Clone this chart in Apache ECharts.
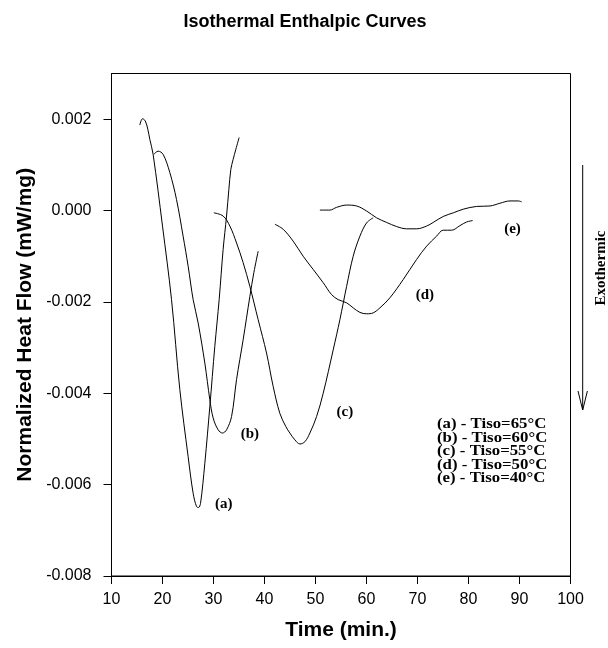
<!DOCTYPE html>
<html>
<head>
<meta charset="utf-8">
<script src="https://cdn.jsdelivr.net/npm/echarts@6/dist/echarts.min.js"></script>
<style>
  html, body { margin: 0; padding: 0; background: #ffffff; }
  #chart { width: 608px; height: 648px; }
</style>
</head>
<body>
<div id="chart"></div>
<script>
// Axis ticks
const xTicks = [10, 20, 30, 40, 50, 60, 70, 80, 90, 100];
const yTicks = [-0.008, -0.006, -0.004, -0.002, 0, 0.002];

// Isothermal DSC traces: [time (min), normalized heat flow (mW/mg)]
const curveA = [
  [15.55, 0.00187], [16.08, 0.00201], [16.63, 0.00196], [17.12, 0.00178], [17.51, 0.00156],
  [18.16, 0.00123], [20.00, -0.00034], [21.77, -0.00195], [23.40, -0.00392], [25.03, -0.00539],
  [26.01, -0.00619], [26.67, -0.00648], [27.07, -0.00650], [27.46, -0.00641], [28.30, -0.00553],
  [29.28, -0.00429], [30.26, -0.00297], [31.11, -0.00195], [31.89, -0.00085], [32.56, -0.00012],
  [33.01, 0.00046], [33.40, 0.00090], [33.85, 0.00112], [34.38, 0.00134], [35.03, 0.00160]
];
const curveB = [
  [18.30, 0.00123], [19.14, 0.00130], [20.12, 0.00123], [21.44, 0.00083], [22.75, 0.00024],
  [24.04, -0.00056], [25.03, -0.00122], [26.01, -0.00195], [26.99, -0.00246], [28.30, -0.00334],
  [29.28, -0.00414], [29.93, -0.00454], [30.91, -0.00480], [31.77, -0.00487], [32.56, -0.00480],
  [33.54, -0.00451], [34.52, -0.00370], [35.81, -0.00283], [37.13, -0.00188], [37.91, -0.00136],
  [38.76, -0.00089]
];
const curveC = [
  [30.07, -0.00005], [31.89, -0.00012], [33.21, -0.00034], [34.52, -0.00071], [35.81, -0.00114],
  [37.13, -0.00166], [38.76, -0.00239], [40.40, -0.00312], [41.70, -0.00385], [43.01, -0.00444],
  [44.19, -0.00473], [44.97, -0.00487], [45.96, -0.00502], [46.94, -0.00511], [47.92, -0.00506],
  [48.90, -0.00487], [50.21, -0.00451], [51.51, -0.00400], [53.47, -0.00305], [54.78, -0.00239],
  [56.10, -0.00166], [57.39, -0.00100], [58.71, -0.00056], [60.02, -0.00027], [61.31, -0.00016]
];
const curveD = [
  [42.03, -0.00030], [43.66, -0.00041], [45.62, -0.00067], [47.58, -0.00100], [49.55, -0.00129],
  [51.51, -0.00158], [53.15, -0.00184], [54.45, -0.00195], [56.10, -0.00202], [57.39, -0.00213],
  [58.71, -0.00223], [60.02, -0.00226], [61.31, -0.00224], [62.63, -0.00213], [64.59, -0.00191],
  [67.20, -0.00151], [69.83, -0.00107], [71.79, -0.00078], [73.75, -0.00056], [75.04, -0.00043],
  [76.69, -0.00043], [78.32, -0.00033], [79.64, -0.00025], [80.81, -0.00022]
];
const curveE = [
  [50.86, 0.00001], [52.82, 0.00001], [54.14, 0.00007], [56.10, 0.00012], [58.06, 0.00010],
  [60.02, -0.00001], [61.98, -0.00016], [63.94, -0.00026], [65.90, -0.00035], [67.87, -0.00040],
  [69.83, -0.00040], [71.79, -0.00034], [73.08, -0.00026], [75.04, -0.00013], [77.01, -0.00005],
  [78.97, 0.00003], [81.60, 0.00009], [84.21, 0.00010], [86.17, 0.00016], [88.13, 0.00021],
  [89.76, 0.00021], [90.43, 0.00019]
];

// Curve tags and where they sit (data coordinates)
const curveTags = ['(a)', '(b)', '(c)', '(d)', '(e)'];
const tagAnchors = [[32.03, -0.00642], [37.13, -0.00490], [55.76, -0.00441], [71.46, -0.00185], [88.62, -0.00041]];

// Key listing the isothermal temperatures
const keyLines = [
  '(a) - Tiso=65°C',
  '(b) - Tiso=60°C',
  '(c) - Tiso=55°C',
  '(d) - Tiso=50°C',
  '(e) - Tiso=40°C'
];

const curves = [curveA, curveB, curveC, curveD, curveE];
const sans = 'Liberation Sans, Arial, sans-serif';
const serif = 'Liberation Serif, Times New Roman, serif';

const chart = echarts.init(document.getElementById('chart'), null, { renderer: 'canvas' });

const lineSeries = curves.map((pts, i) => ({
  type: 'line',
  name: curveTags[i],
  data: pts,
  showSymbol: false,
  smooth: 0.35,
  lineStyle: { color: '#000', width: 1 },
  silent: true,
  z: 3
}));

const tagSeries = {
  type: 'scatter',
  data: tagAnchors.map((p, i) => ({ value: p, name: curveTags[i] })),
  symbolSize: 0,
  itemStyle: { color: '#000', opacity: 1 },
  label: {
    show: true,
    position: [0, 0],
    align: 'center',
    verticalAlign: 'middle',
    formatter: p => p.name,
    color: '#000',
    textBorderWidth: 0,
    fontFamily: serif,
    fontWeight: 'bold',
    fontSize: 15
  },
  emphasis: { disabled: true },
  silent: true,
  z: 4
};

chart.setOption({
  animation: false,
  backgroundColor: '#fff',
  title: {
    text: 'Isothermal Enthalpic Curves',
    left: 300,
    top: 8,
    textAlign: 'center',
    textStyle: { fontFamily: sans, fontWeight: 'bold', fontSize: 18, color: '#000' }
  },
  grid: {
    left: 111.5,
    right: 37.5,
    top: 73.5,
    bottom: 72,
    show: true,
    borderColor: '#000',
    borderWidth: 1
  },
  xAxis: {
    type: 'value',
    min: 10,
    max: 100,
    interval: 10,
    name: 'Time (min.)',
    nameLocation: 'middle',
    nameGap: 44,
    nameTextStyle: { fontFamily: sans, fontWeight: 'bold', fontSize: 21, color: '#000' },
    axisLine: { show: true, onZero: false, lineStyle: { color: '#000', width: 1 } },
    axisTick: { show: true, length: 8, lineStyle: { color: '#000' } },
    axisLabel: {
      margin: 16,
      color: '#000',
      fontFamily: sans,
      fontSize: 16,
      formatter: v => (xTicks.indexOf(v) >= 0 ? String(v) : '')
    },
    splitLine: { show: false }
  },
  yAxis: {
    type: 'value',
    min: -0.008,
    max: 0.003,
    interval: 0.002,
    name: 'Normalized Heat Flow (mW/mg)',
    nameLocation: 'middle',
    nameGap: 67,
    nameTextStyle: { fontFamily: sans, fontWeight: 'bold', fontSize: 21, color: '#000' },
    axisLine: { show: true, onZero: false, lineStyle: { color: '#000', width: 1 } },
    axisTick: { show: true, length: 8, lineStyle: { color: '#000' }, customValues: yTicks },
    axisLabel: {
      margin: 20,
      color: '#000',
      fontFamily: sans,
      fontSize: 16,
      customValues: yTicks,
      formatter: v => v.toFixed(3)
    },
    splitLine: { show: false }
  },
  series: [...lineSeries, tagSeries],
  graphic: [
    {
      type: 'text',
      x: 437,
      y: 418,
      scaleX: 1.2,
      style: {
        text: keyLines.join('\n'),
        font: 'bold 14px ' + serif,
        lineHeight: 13.4,
        fill: '#000'
      },
      silent: true
    },
    {
      type: 'line',
      shape: { x1: 582.7, y1: 165, x2: 582.7, y2: 410 },
      style: { stroke: '#000', lineWidth: 1 },
      silent: true
    },
    {
      type: 'polyline',
      shape: { points: [[578, 391], [582.7, 410], [587.4, 391]] },
      style: { stroke: '#000', lineWidth: 1, fill: null },
      silent: true
    },
    {
      type: 'text',
      x: 601,
      y: 268,
      rotation: Math.PI / 2,
      style: {
        text: 'Exothermic',
        font: 'bold 15px ' + serif,
        fill: '#000',
        align: 'center',
        verticalAlign: 'middle'
      },
      silent: true
    }
  ]
});
</script>
</body>
</html>
